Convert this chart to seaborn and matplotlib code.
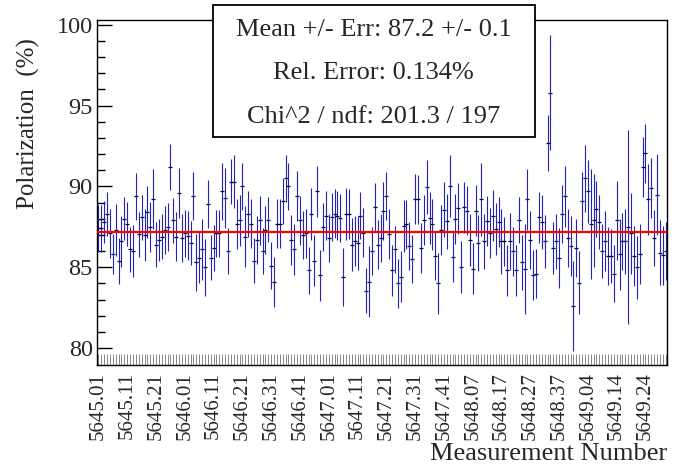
import numpy as np
import pandas as pd
import matplotlib
matplotlib.use("Agg")
import matplotlib.pyplot as plt
import seaborn as sns
from matplotlib.patches import Rectangle

# Runs and number of measurements per run (x tick labels are built from these)
runs = [5645, 5646, 5647, 5648, 5649]
runs_n = [30, 50, 44, 43, 31]

polarization = [
    87.4, 87.4, 87.8, 88.3, 87.1, 85.8, 87.3, 85.4, 86.6, 88.0, 87.7, 86.1, 86.0,
    89.4, 87.05, 88.1, 87.0, 88.4, 87.5, 89.2, 86.4, 86.7, 86.9, 87.3, 87.5,
    91.2, 87.9, 86.9, 89.6, 86.8, 87.1, 86.95, 86.5, 89.4, 85.3, 85.6, 86.1,
    85.0, 88.9, 85.6, 86.2, 87.1, 87.1, 89.7, 89.3, 86.0, 90.3, 90.3, 87.7,
    87.9, 90.0, 86.9, 88.3, 87.7, 85.4, 86.7, 87.9, 86.0, 87.3, 87.95, 85.1,
    84.1, 87.7, 87.7, 89.1, 90.5, 90.0, 86.7, 86.1, 89.4, 87.9, 87.0, 87.1, 84.8,
    88.3, 85.4, 89.7, 84.5, 87.5, 88.2, 86.8, 88.1, 88.3, 88.2, 88.05, 84.4,
    88.3, 88.3, 86.4, 86.6, 86.5, 88.2, 87.15, 83.55, 84.1, 86.0, 88.7, 86.4,
    86.8, 88.5, 89.4, 87.05, 84.8, 86.1, 84.0, 84.4, 87.55, 87.65, 86.3, 85.5,
    89.2, 89.2, 86.2, 87.9, 89.95, 88.05, 87.65, 85.7, 84.0, 87.3, 88.55, 87.85,
    90.05, 85.65, 88.0, 88.65, 85.0, 88.7, 88.5, 86.7, 84.9, 88.5, 86.5, 89.2,
    86.6, 87.85, 87.1, 88.2, 87.35, 87.8, 86.6, 86.6, 84.8, 86.6, 86.0, 84.8,
    87.9, 85.3, 84.9, 89.2, 86.7, 84.5, 84.6, 88.1, 87.8, 86.6, 92.7, 95.8,
    86.2, 86.6, 85.55, 88.3, 89.4, 86.8, 86.3, 82.6, 86.2, 84.05, 89.1, 90.5,
    89.7, 87.7, 87.9, 88.6, 87.8, 86.0, 86.6, 85.7, 85.7, 84.6, 87.9, 85.8,
    86.6, 86.6, 87.5, 87.1, 85.7, 85.0, 85.8, 91.2, 92.05, 89.2, 89.9, 86.8,
    89.5, 85.9, 85.75, 86.0,
]

# Statistical errors (%)
pol_err = [
    1.44, 1.44, 1.29, 1.36, 1.5, 1.24, 1.62, 1.44, 1.6, 1.32, 1.36, 1.39, 1.63,
    1.46, 1.39, 1.4, 1.62, 1.6, 1.55, 1.86, 1.37, 1.31, 1.4, 1.5, 1.5,
    1.44, 1.39, 1.5, 1.57, 1.48, 1.44, 1.53, 1.39, 1.5, 1.75, 1.6, 1.9,
    1.75, 1.47, 1.41, 1.44, 1.44, 1.47, 1.78, 1.86, 1.42, 1.39, 1.62, 1.55,
    1.58, 1.44, 1.9, 1.44, 1.5, 1.39, 1.5, 1.5, 1.44, 1.5, 1.4, 1.44,
    1.55, 1.5, 1.53, 1.45, 1.47, 1.45, 1.55, 1.55, 1.55, 1.5, 1.5, 1.5, 1.45,
    1.6, 1.57, 1.58, 1.57, 1.5, 1.5, 1.5, 1.47, 1.52, 1.5, 1.5, 1.8,
    1.6, 1.55, 1.65, 1.55, 1.65, 1.47, 1.5, 1.39, 2.2, 1.48, 1.5, 1.5,
    1.47, 1.8, 1.5, 1.57, 1.57, 1.48, 1.52, 1.58, 1.62, 1.5, 1.5, 1.5,
    1.55, 1.5, 1.55, 1.55, 1.66, 1.6, 1.6, 1.5, 1.89, 1.55, 1.7, 1.7,
    1.91, 1.55, 1.55, 1.57, 1.6, 1.55, 1.52, 1.6, 1.57, 1.57, 1.75, 2.27,
    1.72, 1.53, 1.55, 1.55, 1.6, 1.55, 2.0, 1.5, 1.6, 1.75, 1.52, 1.55,
    1.42, 1.7, 2.8, 1.91, 1.79, 1.55, 1.52, 1.58, 1.68, 1.63, 1.75, 3.57,
    1.61, 1.7, 1.86, 1.81, 1.88, 1.79, 1.86, 2.79, 1.81, 1.95, 1.8, 2.06,
    1.96, 3.4, 2.9, 1.73, 1.68, 1.65, 1.86, 1.8, 1.65, 1.75, 2.46, 2.19,
    1.75, 2.0, 6.0, 2.5, 1.84, 1.96, 1.86, 1.86, 1.81, 2.2, 1.83, 1.75,
    2.48, 2.0, 1.83, 1.8,
]

fit_mean = 87.2
stats_lines = ["Mean +/- Err: 87.2 +/- 0.1", "Rel. Error: 0.134%", "Chi^2 / ndf: 201.3 / 197"]

meas_labels = [f"{r}.{k:02d}" for r, n in zip(runs, runs_n) for k in range(1, n + 1)]

df = pd.DataFrame({
    "idx": np.arange(len(polarization)),
    "pol": polarization,
    "err": pol_err,
})

sns.set_theme(style="ticks")
plt.rcParams["font.family"] = ["Liberation Serif", "DejaVu Serif"]

fig = plt.figure(figsize=(6.91, 4.69), dpi=100)
ax = fig.add_axes([0.1404, 0.2217, 0.8249, 0.7357])

# error bars + central values
ax.errorbar(df["idx"], df["pol"], yerr=df["err"], fmt="none",
            ecolor="#2424b4", elinewidth=0.8, capsize=0, zorder=2)
sns.scatterplot(data=df, x="idx", y="pol", marker="_", s=7, color="#000033",
                linewidth=0.9, ax=ax, zorder=3, legend=False)

# constant fit
ax.axhline(fit_mean, color="#ff0000", lw=1.6, zorder=4)

ax.set_xlim(-0.5, len(polarization) - 0.5)
ax.set_ylim(78.95, 100.3)

# x axis: a tick per measurement, a label every 10th
ax.set_xticks(df["idx"][::10])
ax.set_xticklabels(meas_labels[::10], rotation=90, fontsize=15)
ax.set_xticks(df["idx"], minor=True)
ax.tick_params(axis="x", which="both", direction="in", length=8, width=0.7,
               color="#8a8a8a", pad=5)
ax.set_xlabel("")

# y axis
ax.set_yticks([80, 85, 90, 95, 100])
ax.set_yticks(np.arange(80, 101, 1), minor=True)
ax.tick_params(axis="y", which="major", direction="in", length=11, width=1,
               color="black", labelsize=17.5, pad=3)
ax.tick_params(axis="y", which="minor", direction="in", length=6, width=1,
               color="black")
ax.set_ylabel("Polarization  (%)", fontsize=18)
ax.yaxis.set_label_coords(-0.10, 0.70)

for s in ax.spines.values():
    s.set_color("black")
    s.set_linewidth(1.0)
ax.grid(False)

fig.text(0.965, 0.008, "Measurement Number", ha="right", va="bottom", fontsize=19)

# stats box
box = Rectangle((0.308, 0.708), 0.466, 0.281, transform=fig.transFigure,
                facecolor="white", edgecolor="black", lw=1.3, zorder=10)
fig.patches.append(box)
for line, yy in zip(stats_lines, [0.936, 0.844, 0.750]):
    fig.text(0.541, yy, line, ha="center", va="center", fontsize=19, zorder=11)

fig.savefig("out.png", dpi=100)
